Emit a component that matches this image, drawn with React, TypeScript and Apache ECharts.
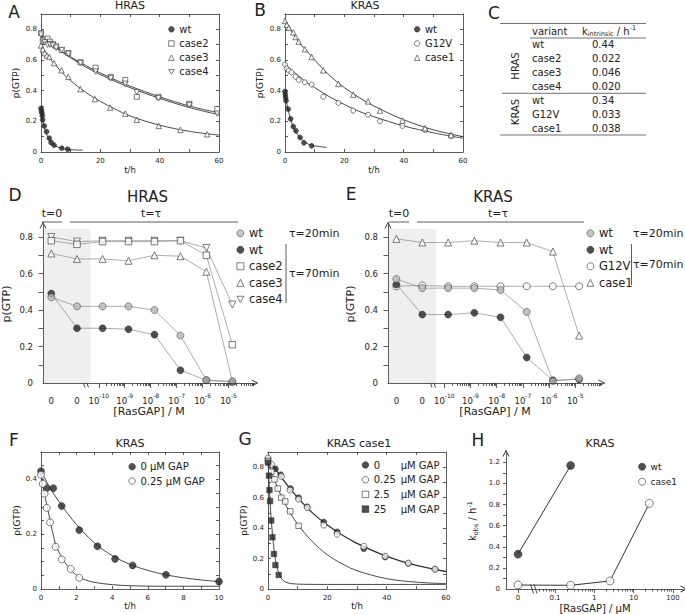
import React, { useEffect, useRef } from "react";
import * as echarts from "echarts";

// ================= DATA =================
// Panel A: HRAS, [t / h, p(GTP)]
const hrasWt = [[0, 0.285], [0.15, 0.27], [0.3, 0.254], [0.45, 0.235], [0.56, 0.21], [1.1, 0.17], [1.9, 0.133], [2.8, 0.09], [3.4, 0.062], [4.4, 0.045], [7, 0.025], [9, 0.018]];
const hrasCase2 = [[0, 0.775], [0.6, 0.72], [1.3, 0.735], [2.2, 0.74], [3, 0.72], [4, 0.705], [5.1, 0.69], [7, 0.665], [9.2, 0.645], [13.3, 0.585], [18.4, 0.55], [23.5, 0.49], [28.4, 0.47], [32.3, 0.36], [39.6, 0.36], [50, 0.315], [59.4, 0.28]];
const hrasCase3 = [[0, 0.695], [0.6, 0.67], [1.3, 0.645], [2, 0.63], [2.8, 0.62], [4.4, 0.58], [6.9, 0.533], [9.2, 0.49], [13.3, 0.41], [18.2, 0.345], [23.3, 0.29], [28.4, 0.25], [32.3, 0.21], [39.7, 0.17], [47, 0.144], [56, 0.116]];
const hrasCase4 = [[0, 0.765], [0.6, 0.725], [1.3, 0.715], [2.2, 0.7], [3, 0.7], [4, 0.695], [5.1, 0.68], [7, 0.665], [9.2, 0.64], [13.3, 0.58], [18.4, 0.525], [23.5, 0.48], [28.4, 0.445], [32.3, 0.39], [39.6, 0.35], [50, 0.305], [59.4, 0.25]];
const hrasWtFit = [[0, 0.285], [0.5, 0.215], [1, 0.17], [1.5, 0.135], [2, 0.11], [3, 0.075], [4, 0.052], [5, 0.038], [6, 0.03], [8, 0.02], [10, 0.015], [14, 0.012]];
const hrasCase2Fit = [[0, 0.765], [5, 0.685], [10, 0.62], [15, 0.565], [20, 0.515], [30, 0.43], [40, 0.36], [50, 0.3], [60, 0.255]];
const hrasCase3Fit = [[0, 0.695], [2.5, 0.62], [5, 0.565], [7.5, 0.51], [10, 0.465], [15, 0.39], [20, 0.33], [25, 0.28], [30, 0.235], [40, 0.175], [50, 0.135], [60, 0.11]];
const hrasCase4Fit = [[0, 0.76], [5, 0.68], [10, 0.615], [15, 0.555], [20, 0.505], [30, 0.42], [40, 0.35], [50, 0.29], [60, 0.243]];

// Panel B: KRAS, [t / h, p(GTP)]
const krasWt = [[0, 0.395], [0.1, 0.375], [0.2, 0.355], [0.35, 0.335], [1.1, 0.28], [1.9, 0.216], [2.8, 0.166], [3.7, 0.138], [5.1, 0.095], [6.4, 0.06], [9, 0.04]];
const krasG12V = [[0, 0.57], [0.6, 0.545], [1.3, 0.53], [2.2, 0.52], [3.6, 0.49], [4.6, 0.47], [6.7, 0.455], [9, 0.44], [12.9, 0.36], [18, 0.32], [23, 0.27], [28, 0.243], [32, 0.2], [39.6, 0.17], [47.2, 0.144], [56, 0.105]];
const krasCase1 = [[0, 0.855], [0.6, 0.83], [1.3, 0.81], [2.8, 0.78], [3.6, 0.75], [4.6, 0.72], [6.7, 0.67], [9, 0.62], [12.9, 0.533], [18, 0.444], [23, 0.374], [28, 0.33], [32, 0.27], [39.6, 0.205], [47.2, 0.155], [56, 0.11]];
const krasWtFit = [[0, 0.395], [0.5, 0.33], [1, 0.28], [1.5, 0.24], [2, 0.205], [3, 0.155], [4, 0.12], [5, 0.095], [6, 0.075], [8, 0.05], [10, 0.04], [14, 0.03]];
const krasG12VFit = [[0, 0.57], [2.5, 0.53], [5, 0.49], [7.5, 0.45], [10, 0.42], [15, 0.36], [20, 0.31], [25, 0.265], [30, 0.23], [40, 0.17], [50, 0.125], [60, 0.09]];
const krasCase1Fit = [[0, 0.86], [2.5, 0.78], [5, 0.71], [7.5, 0.655], [10, 0.6], [15, 0.5], [20, 0.42], [25, 0.355], [30, 0.3], [40, 0.21], [50, 0.145], [60, 0.1]];

// Panel C: table of intrinsic rates
const hrasVariants = ["wt", "case2", "case3", "case4"];
const hrasK = ["0.44", "0.022", "0.046", "0.020"];
const krasVariants = ["wt", "G12V", "case1"];
const krasK = ["0.34", "0.033", "0.038"];

// Panels D / E: GAP titration; first value = t=0, second = t=τ without GAP, then the concentrations
const gapConcM = [1.4e-10, 1.4e-9, 1.4e-8, 1.4e-7, 1.4e-6, 1.4e-5];
const dHrasWt20 = [0.47, 0.42, 0.42, 0.42, 0.40, 0.26, 0.016, 0.01];
const dHrasWt70 = [0.49, 0.30, 0.30, 0.295, 0.265, 0.07, 0.015, 0.005];
const dHrasCase2 = [0.78, 0.76, 0.775, 0.775, 0.775, 0.78, 0.70, 0.21];
const dHrasCase3 = [0.71, 0.68, 0.68, 0.67, 0.70, 0.695, 0.61, 0.01];
const dHrasCase4 = [0.80, 0.775, 0.78, 0.78, 0.78, 0.78, 0.74, 0.43];
const eKrasWt20 = [0.57, 0.52, 0.52, 0.52, 0.51, 0.39, 0.01, 0.025];
const eKrasWt70 = [0.54, 0.375, 0.375, 0.385, 0.36, 0.14, 0.015, 0.02];
const eKrasG12V = [0.53, 0.535, 0.53, 0.53, 0.53, 0.53, 0.53, 0.53];
const eKrasCase1 = [0.79, 0.77, 0.77, 0.78, 0.77, 0.77, 0.72, 0.26];

// Panel F: KRAS wt with GAP, [t / h, p(GTP)]
const fGap0 = [[0, 0.43], [0.32, 0.368], [0.69, 0.368], [1.16, 0.303], [2.15, 0.215], [3.17, 0.156], [4.16, 0.11], [5.15, 0.086], [7.02, 0.052], [10, 0.027]];
const fGap025 = [[0, 0.417], [0.1, 0.384], [0.2, 0.348], [0.32, 0.296], [0.51, 0.243], [0.82, 0.154], [1.16, 0.108], [1.67, 0.073], [2.15, 0.041]];
const fFit0 = [[0, 0.43], [0.5, 0.37], [1, 0.32], [1.5, 0.275], [2, 0.235], [3, 0.168], [4, 0.122], [5, 0.09], [6, 0.068], [7, 0.052], [8, 0.041], [9, 0.033], [10, 0.027]];
const fFit025 = [[0, 0.42], [0.25, 0.33], [0.5, 0.255], [0.75, 0.18], [1, 0.135], [1.5, 0.083], [2, 0.05], [2.5, 0.033], [3, 0.024], [4, 0.016], [5, 0.012], [7, 0.01], [10, 0.01]];

// Panel G: KRAS case1 with GAP, [t / h, p(GTP)]
const gGap0 = [[0, 0.855], [2.5, 0.79], [4.3, 0.75], [7.6, 0.66], [10.3, 0.6], [13.2, 0.54], [18.8, 0.44], [23.3, 0.375], [32.3, 0.265], [39.5, 0.21], [47.3, 0.168], [56.3, 0.13]];
const gGap025 = [[0, 0.86], [1.2, 0.82], [4.5, 0.74], [7.4, 0.65], [10.3, 0.59], [13.2, 0.535], [18.8, 0.42], [23.3, 0.36], [32.3, 0.28], [39.5, 0.215], [47.3, 0.17], [56.3, 0.13]];
const gGap25 = [[0, 0.84], [1.1, 0.77], [2.2, 0.72], [3.3, 0.66], [4.5, 0.6], [5.8, 0.575], [7.5, 0.51], [10.3, 0.415]];
const gGap250 = [[0, 0.83], [0.3, 0.745], [0.5, 0.65], [0.7, 0.577], [1.1, 0.45], [1.5, 0.34], [2, 0.23], [2.5, 0.157], [3.6, 0.092]];
const gFit0 = [[0, 0.86], [5, 0.72], [10, 0.6], [15, 0.5], [20, 0.42], [25, 0.355], [30, 0.3], [40, 0.215], [50, 0.155], [60, 0.115]];
const gFit25 = [[0, 0.84], [2.5, 0.7], [5, 0.59], [7.5, 0.5], [10, 0.425], [15, 0.31], [20, 0.225], [25, 0.165], [30, 0.12], [40, 0.068], [50, 0.045], [60, 0.035]];
const gFit250 = [[0, 0.84], [0.5, 0.64], [1, 0.48], [1.5, 0.36], [2, 0.265], [2.5, 0.195], [3, 0.145], [4, 0.088], [5, 0.058], [6, 0.045], [8, 0.035], [12, 0.031], [20, 0.03], [40, 0.03], [60, 0.03]];

// Panel H: k_obs vs [RasGAP] / μM
const hConcUM = [0, 0.25, 2.5, 25];
const hKobsWt = [0.33, 1.17];
const hKobsCase1 = [0.038, 0.035, 0.076, 0.81];

// axis ticks / labels
const timeTicks60 = [10, 20, 30, 40, 50];
const timeLabels60 = [0, 20, 40, 60];
const timeTicks10 = [1, 2, 3, 4, 5, 6, 7, 8, 9];
const timeLabels10 = [0, 2, 4, 6, 8, 10];
const pTicks = [0.1, 0.2, 0.3, 0.4, 0.5, 0.6, 0.7, 0.8];
const pLabels = [0, 0.2, 0.4, 0.6, 0.8];
const pTicksF = [0.05, 0.1, 0.15, 0.2, 0.25, 0.3, 0.35, 0.4, 0.45];
const pLabelsF = [0, 0.2, 0.4];
const kTicks = [0.1, 0.2, 0.3, 0.4, 0.5, 0.6, 0.7, 0.8, 0.9, 1.0, 1.1, 1.2];
const kLabels = [0, 0.2, 0.4, 0.6, 0.8, 1.0, 1.2];
const gapDecadesM = [-10, -9, -8, -7, -6, -5];
const gapDecadesUM = [-1, 0, 1, 2];

// ================= STYLE =================
const FONT = "DejaVu Sans, Liberation Sans, Arial, sans-serif";
const INK = "#222";
const LN = "#333";
const AX = { color: LN, width: 0.8 };
const ARROW = "path://M0,10L5,0L10,10L8.6,10L5,2.8L1.4,10Z";
const DOWN_TRI = "path://M0,0L10,0L5,8.7Z";
const filled = { color: "#262626", borderColor: "#262626", borderWidth: 0.6 };
const open = { color: "#ffffff", borderColor: "#333", borderWidth: 0.8 };
const gray = { color: "#b8b8b8", borderColor: "#555", borderWidth: 0.8 };

const txt = (size: number, extra: any = {}) => ({ fontFamily: FONT, fontSize: size, color: INK, ...extra });
const fmtP = (v: number) => (Math.abs(v) < 1e-9 ? "0" : v.toFixed(1));

// axis coordinate of the two "0" GAP categories (D/E) and of the "0" in H
const D_T0_POS = -11.83;
const D_ZERO_POS = -10.84;
const H_ZERO_POS = -1.94;

function minorLogTicks(decades: number[], maxV: number, from = 2) {
  const out: number[] = [];
  decades.forEach((d, i) => {
    for (let k = i === 0 ? from : 2; k <= 9; k++) {
      const v = d + Math.log10(k);
      if (v < maxV) out.push(v);
    }
  });
  return out;
}

function buildOption() {
  const grid: any[] = [];
  const xAxis: any[] = [];
  const yAxis: any[] = [];
  const series: any[] = [];
  const legend: any[] = [];
  const graphic: any[] = [];

  const addGrid = (left: number, top: number, width: number, height: number) => {
    grid.push({ left, top, width, height, containLabel: false });
    return grid.length - 1;
  };

  function boxPanel(g: number, o: any) {
    const xi = xAxis.length;
    const yi = yAxis.length;
    const base = { gridIndex: g, type: "value", splitLine: { show: false }, axisLine: { show: true, onZero: false, lineStyle: AX } };
    const tick = (vals: number[]) => ({ show: true, inside: true, length: 3, lineStyle: AX, customValues: vals });
    xAxis.push({
      ...base, position: "bottom", min: o.x[0], max: o.x[1], axisTick: tick(o.xTicks),
      axisLabel: { show: true, customValues: o.xLabels, margin: 5, ...txt(7), formatter: (v: number) => String(v) },
      name: o.xName, nameLocation: "middle", nameGap: o.xNameGap, nameTextStyle: txt(8.5),
    });
    xAxis.push({ ...base, position: "top", min: o.x[0], max: o.x[1], axisTick: tick(o.xTicks), axisLabel: { show: false } });
    yAxis.push({
      ...base, position: "left", min: o.y[0], max: o.y[1], axisTick: tick(o.yTicks),
      axisLabel: { show: true, customValues: o.yLabels, margin: 4, ...txt(7), formatter: fmtP },
      name: o.yName, nameLocation: "middle", nameGap: o.yNameGap, nameRotate: 90, nameTextStyle: txt(9),
    });
    yAxis.push({ ...base, position: "right", min: o.y[0], max: o.y[1], axisTick: tick(o.yTicks), axisLabel: { show: false } });
    return { xi, yi };
  }

  function arrowPanel(g: number, o: any) {
    const xi = xAxis.length;
    const yi = yAxis.length;
    xAxis.push({
      gridIndex: g, type: "value", position: "bottom", min: o.x[0], max: o.x[1], splitLine: { show: false }, z: 5,
      axisLine: { show: true, onZero: false, lineStyle: AX, symbol: ["none", ARROW], symbolSize: [7, 8] },
      axisTick: { show: true, length: o.majorLen, lineStyle: AX, customValues: o.majorTicks },
      axisLabel: { show: true, customValues: o.labelValues, margin: o.xLabelMargin, ...txt(o.labelSize), formatter: o.fmt, rich: o.rich },
      name: o.xName, nameLocation: "middle", nameGap: o.xNameGap, nameTextStyle: txt(o.nameSize),
    });
    xAxis.push({
      gridIndex: g, type: "value", position: "bottom", min: o.x[0], max: o.x[1], splitLine: { show: false }, z: 5,
      axisLine: { show: false, onZero: false }, axisLabel: { show: false },
      axisTick: { show: true, length: o.minorLen, lineStyle: AX, customValues: o.minorTicks },
    });
    yAxis.push({
      gridIndex: g, type: "value", position: "left", min: o.y[0], max: o.y[1], splitLine: { show: false }, z: 5,
      axisLine: { show: true, onZero: false, lineStyle: AX, symbol: ["none", ARROW], symbolSize: [7, 8] },
      axisTick: { show: true, length: o.yTickLen, lineStyle: AX, customValues: o.yTicks },
      axisLabel: { show: true, customValues: o.yLabels, margin: o.yLabelMargin, ...txt(o.labelSize), formatter: fmtP },
      name: o.yName, nameLocation: "middle", nameGap: o.yNameGap, nameRotate: 90, nameTextStyle: o.yNameStyle || txt(o.nameSize),
    });
    return { xi, yi };
  }

  const scatter = (name: string, p: any, data: any[], symbol: string, size: number, style: any) =>
    series.push({ type: "scatter", name, xAxisIndex: p.xi, yAxisIndex: p.yi, data, symbol, symbolSize: size, itemStyle: style, clip: false, z: 4, emphasis: { disabled: true } });
  const fit = (name: string, p: any, data: any[], width = 0.9) =>
    series.push({ type: "line", name, xAxisIndex: p.xi, yAxisIndex: p.yi, data, smooth: 0.35, symbol: "none", showSymbol: false, lineStyle: { color: "#333", width }, silent: true, z: 3 });
  const joined = (name: string, p: any, data: any[], extra: any = {}) =>
    series.push({ type: "line", name, xAxisIndex: p.xi, yAxisIndex: p.yi, data, symbol: "none", showSymbol: false, lineStyle: { color: "#8a8a8a", width: 0.7 }, silent: true, z: 2, ...extra });

  const stripPrefix = (n: string) => n.slice(2).split("|")[0];
  const leg = (left: number, top: number, icon: number, gap: number, size: number, data: string[], extra: any = {}) =>
    legend.push({
      left, top, orient: "vertical", itemWidth: icon, itemHeight: icon, itemGap: gap, padding: 0, selectedMode: false,
      itemStyle: { borderWidth: 0.8 },
      textStyle: txt(size), formatter: stripPrefix, data, ...extra,
    });

  // ---------------- A ----------------
  const A = boxPanel(addGrid(41, 14, 178, 138), {
    x: [0, 60], xTicks: timeTicks60, xLabels: timeLabels60, y: [0, 0.9], yTicks: pTicks, yLabels: pLabels,
    xName: "t/h", xNameGap: 13, yName: "p(GTP)", yNameGap: 21,
  });
  fit("A:fit wt", A, hrasWtFit);
  fit("A:fit case2", A, hrasCase2Fit);
  fit("A:fit case3", A, hrasCase3Fit);
  fit("A:fit case4", A, hrasCase4Fit);
  scatter("A:wt", A, hrasWt, "circle", 5, filled);
  scatter("A:case2", A, hrasCase2, "rect", 5, open);
  scatter("A:case3", A, hrasCase3, "triangle", 5.5, open);
  scatter("A:case4", A, hrasCase4, DOWN_TRI, 5.5, open);
  leg(168.3, 24.3, 5.5, 4.2, 10, ["A:wt", "A:case2", "A:case3", "A:case4"]);

  // ---------------- B ----------------
  const B = boxPanel(addGrid(285, 14, 178, 138), {
    x: [0, 60], xTicks: timeTicks60, xLabels: timeLabels60, y: [0, 0.9], yTicks: pTicks, yLabels: pLabels,
    xName: "t/h", xNameGap: 13, yName: "p(GTP)", yNameGap: 21,
  });
  fit("B:fit wt", B, krasWtFit);
  fit("B:fit G12V", B, krasG12VFit);
  fit("B:fit case1", B, krasCase1Fit);
  scatter("B:wt", B, krasWt, "circle", 5, filled);
  scatter("B:G12V", B, krasG12V, "circle", 5, open);
  scatter("B:case1", B, krasCase1, "triangle", 5.5, open);
  leg(414, 24.3, 5.5, 4.2, 10, ["B:wt", "B:G12V", "B:case1"]);

  // ---------------- D / E ----------------
  const gapX = [D_T0_POS, D_ZERO_POS, ...gapConcM.map((c) => Math.log10(c))];
  const pairs = (vals: number[]) => vals.map((v, i) => [gapX[i], v]);
  const richGap = {
    b: { fontFamily: FONT, fontSize: 8.5, color: INK, lineHeight: 13, verticalAlign: "bottom" },
    s: { fontFamily: FONT, fontSize: 6, color: INK, lineHeight: 6, verticalAlign: "top" },
  };
  const gapFmt = (v: number) => (v < -10.5 ? "{b|0}" : `{b|10}{s|${Math.round(v)}}`);
  const gapPanelOpts = {
    x: [-12.15, -3.98], majorTicks: gapDecadesM, minorTicks: minorLogTicks(gapDecadesM, -3.98), majorLen: 5, minorLen: 3,
    labelValues: [D_T0_POS, D_ZERO_POS, ...gapDecadesM], fmt: gapFmt, rich: richGap, labelSize: 8.5, xLabelMargin: 9,
    xName: "[RasGAP] / M", xNameGap: 20, nameSize: 11,
    y: [0, 0.866], yTicks: pTicks, yLabels: pLabels, yTickLen: 4.5, yLabelMargin: 10, yName: "p(GTP)", yNameGap: 31,
  };
  const shade = {
    silent: true, itemStyle: { color: "#efefef" },
    data: [[{ coord: [-12.13, 0] }, { coord: [-10.32, 0.844] }]],
  };

  const D = arrowPanel(addGrid(41, 225, 214, 158), gapPanelOpts);
  joined("D:line wt20", D, pairs(dHrasWt20), { markArea: shade });
  joined("D:line wt70", D, pairs(dHrasWt70));
  joined("D:line case2", D, pairs(dHrasCase2));
  joined("D:line case3", D, pairs(dHrasCase3));
  joined("D:line case4", D, pairs(dHrasCase4));
  scatter("D:case3", D, pairs(dHrasCase3), "triangle", 7, open);
  scatter("D:case4", D, pairs(dHrasCase4), DOWN_TRI, 7, open);
  scatter("D:case2", D, pairs(dHrasCase2), "rect", 6.5, open);
  scatter("D:wt|70", D, pairs(dHrasWt70), "circle", 7, filled);
  scatter("D:wt|20", D, pairs(dHrasWt20), "circle", 7, gray);
  leg(236.5, 227.3, 7, 4.5, 11.5, ["D:wt|20", "D:wt|70", "D:case2", "D:case3", "D:case4"]);

  const E = arrowPanel(addGrid(388, 225, 214, 158), { ...gapPanelOpts, yNameGap: 32 });
  joined("E:line wt20", E, pairs(eKrasWt20), { markArea: shade });
  joined("E:line wt70", E, pairs(eKrasWt70));
  joined("E:line G12V", E, pairs(eKrasG12V));
  joined("E:line case1", E, pairs(eKrasCase1));
  scatter("E:case1", E, pairs(eKrasCase1), "triangle", 7, open);
  scatter("E:G12V", E, pairs(eKrasG12V), "circle", 7, open);
  scatter("E:wt|70", E, pairs(eKrasWt70), "circle", 7, filled);
  scatter("E:wt|20", E, pairs(eKrasWt20), "circle", 7, gray);
  leg(586.5, 227.3, 7, 4.5, 11.5, ["E:wt|20", "E:wt|70", "E:G12V", "E:case1"]);

  // ---------------- F ----------------
  const F = boxPanel(addGrid(41, 452, 178, 137), {
    x: [0, 10], xTicks: timeTicks10, xLabels: timeLabels10, y: [0, 0.5], yTicks: pTicksF, yLabels: pLabelsF,
    xName: "t/h", xNameGap: 11, yName: "p(GTP)", yNameGap: 20,
  });
  fit("F:fit 0", F, fFit0);
  fit("F:fit 0.25", F, fFit025);
  scatter("F:0 μM GAP", F, fGap0, "circle", 7, filled);
  scatter("F:0.25 μM GAP", F, fGap025, "circle", 7, open);
  leg(128.5, 461.7, 6.5, 4.3, 10, ["F:0 μM GAP", "F:0.25 μM GAP"]);

  // ---------------- G ----------------
  const G = boxPanel(addGrid(268, 452, 178, 137), {
    x: [0, 60], xTicks: timeTicks60, xLabels: timeLabels60, y: [0, 0.9], yTicks: pTicks, yLabels: pLabels,
    xName: "t/h", xNameGap: 11, yName: "p(GTP)", yNameGap: 16,
  });
  fit("G:fit 0", G, gFit0, 1.3);
  fit("G:fit 2.5", G, gFit25);
  fit("G:fit 25", G, gFit250);
  scatter("G:0", G, gGap0, "circle", 6, filled);
  scatter("G:0.25", G, gGap025, "circle", 6, open);
  scatter("G:2.5", G, gGap25, "rect", 5.5, open);
  scatter("G:25", G, gGap250, "rect", 5.5, filled);
  leg(361.8, 460, 6.5, 4.7, 10, ["G:0", "G:0.25", "G:2.5", "G:25"], {
    textStyle: {
      ...txt(10),
      rich: { a: { fontFamily: FONT, fontSize: 10, color: INK, width: 27 }, b: { fontFamily: FONT, fontSize: 10, color: INK } },
    },
    formatter: (n: string) => `{a|${n.slice(2)}}{b|μM GAP}`,
  });

  // ---------------- H ----------------
  const hX = (c: number) => (c === 0 ? H_ZERO_POS : Math.log10(c));
  const H = arrowPanel(addGrid(506, 453, 178, 136), {
    x: [-2.246, 2.28], majorTicks: [H_ZERO_POS, ...gapDecadesUM], minorTicks: minorLogTicks([-2, ...gapDecadesUM], 2.28, 4), majorLen: 4, minorLen: 2.5,
    labelValues: [H_ZERO_POS, ...gapDecadesUM], fmt: (v: number) => (v < -1.5 ? "0" : String(Math.round(Math.pow(10, v) * 10) / 10)),
    labelSize: 7, xLabelMargin: 5, xName: "[RasGAP] / μM", xNameGap: 14, nameSize: 10,
    y: [0, 1.288], yTicks: kTicks, yLabels: kLabels, yTickLen: 3, yLabelMargin: 6, yNameGap: 27,
    yName: "{n|k}{sub|obs}{n| / h}{sup|-1}",
    yNameStyle: {
      ...txt(10),
      rich: {
        n: { fontFamily: FONT, fontSize: 10, color: INK, lineHeight: 13 },
        sub: { fontFamily: FONT, fontSize: 6.5, color: INK, lineHeight: 6, verticalAlign: "bottom" },
        sup: { fontFamily: FONT, fontSize: 6.5, color: INK, lineHeight: 6, verticalAlign: "top" },
      },
    },
  });
  const hWtPts = hKobsWt.map((v, i) => [hX(hConcUM[i]), v]);
  const hCase1Pts = hKobsCase1.map((v, i) => [hX(hConcUM[i]), v]);
  series.push({ type: "line", name: "H:line wt", xAxisIndex: H.xi, yAxisIndex: H.yi, data: hWtPts, symbol: "none", lineStyle: { color: "#333", width: 1 }, silent: true, z: 2 });
  series.push({ type: "line", name: "H:line case1", xAxisIndex: H.xi, yAxisIndex: H.yi, data: hCase1Pts, symbol: "none", lineStyle: { color: "#333", width: 1 }, silent: true, z: 2 });
  scatter("H:wt", H, hWtPts, "circle", 8, filled);
  scatter("H:case1", H, hCase1Pts, "circle", 8, open);
  leg(638.2, 462.2, 7, 6, 9, ["H:wt", "H:case1"]);

  // ---------------- static texts / decorations ----------------
  const label = (text: string, x: number, y: number, size: number, align = "center", extra: any = {}) =>
    graphic.push({ type: "text", x, y, silent: true, style: { text, fontFamily: FONT, fontSize: size, fill: INK, align, verticalAlign: "middle", ...extra } });
  const seg = (x1: number, y1: number, x2: number, y2: number, w = 0.8) =>
    graphic.push({ type: "line", silent: true, shape: { x1, y1, x2, y2 }, style: { stroke: LN, lineWidth: w } });

  // panel letters
  [["A", 14, 12], ["B", 260, 10], ["C", 494, 13], ["D", 15, 195], ["E", 351, 194], ["F", 14, 440], ["G", 245, 439], ["H", 478, 440]].forEach(
    ([t, x, y]) => label(t as string, x as number, y as number, 17)
  );
  // titles
  label("HRAS", 130, 5.5, 11);
  label("KRAS", 365, 5.5, 11);
  label("HRAS", 147.5, 197, 15);
  label("KRAS", 493, 197, 15);
  label("KRAS", 130, 443, 11);
  label("KRAS case1", 359, 443, 11);
  label("KRAS", 600, 443, 11);

  // t=0 / t=τ headers
  [0, 347].forEach((dx) => {
    label("t=0", 52 + dx, 213, 11);
    label("t=τ", 151 + dx, 213, 11);
    seg(42 + dx, 222, 62 + dx, 222);
  });
  seg(70, 222, 238, 222);
  seg(417, 222, 584, 222);
  // τ annotations
  label("τ=20min", 289, 233, 11, "left");
  label("τ=70min", 289, 273, 11, "left");
  seg(286, 244, 286, 303);
  label("τ=20min", 633, 233, 11, "left");
  label("τ=70min", 633, 264, 11, "left");
  seg(631.5, 244, 631.5, 285);

  // axis breaks
  const brk = (x: number, y: number) => {
    graphic.push({ type: "rect", silent: true, shape: { x: x + 1, y: y - 3, width: 2.5, height: 6 }, style: { fill: "#fff" } });
    seg(x - 1.5, y - 4.5, x + 1.5, y + 4.5, 0.9);
    seg(x + 2, y - 4.5, x + 5, y + 4.5, 0.9);
  };
  brk(83.5, 383);
  brk(430.5, 383);
  brk(532, 589);

  // ---------------- C: table ----------------
  const tl = 500, tr = 646, colVar = 532, colK = 592, colGroup = 515;
  seg(tl, 23.5, tr, 23.5, 0.7);
  label("variant", colVar, 31, 10, "left");
  graphic.push({
    type: "text", x: 582, y: 31, silent: true,
    style: {
      text: "{n|k}{sub|intrinsic}{n| / h}{sup|-1}", align: "left", verticalAlign: "middle",
      rich: {
        n: { fontFamily: FONT, fontSize: 10, fill: INK, lineHeight: 13 },
        sub: { fontFamily: FONT, fontSize: 6.5, fill: INK, lineHeight: 6, verticalAlign: "bottom" },
        sup: { fontFamily: FONT, fontSize: 6.5, fill: INK, lineHeight: 6, verticalAlign: "top" },
      },
    },
  });
  seg(colVar - 2, 38, tr, 38, 0.7);
  hrasVariants.forEach((v, i) => {
    label(v, colVar, 44 + i * 14, 10, "left");
    label(hrasK[i], colK, 44 + i * 14, 10, "left");
  });
  seg(tl + 2, 93.3, tr, 93.3, 0.7);
  krasVariants.forEach((v, i) => {
    label(v, colVar, 100 + i * 14, 10, "left");
    label(krasK[i], colK, 100 + i * 14, 10, "left");
  });
  seg(tl, 135, tr, 135, 0.7);
  graphic.push({ type: "text", x: colGroup, y: 66, rotation: Math.PI / 2, silent: true, style: { text: "HRAS", fontFamily: FONT, fontSize: 10, fill: INK, align: "center", verticalAlign: "middle" } });
  graphic.push({ type: "text", x: colGroup, y: 112, rotation: Math.PI / 2, silent: true, style: { text: "KRAS", fontFamily: FONT, fontSize: 10, fill: INK, align: "center", verticalAlign: "middle" } });

  return {
    animation: false,
    backgroundColor: "#ffffff",
    textStyle: { fontFamily: FONT },
    grid, xAxis, yAxis, series, legend, graphic,
  };
}

export default function App() {
  const ref = useRef<HTMLDivElement>(null);
  useEffect(() => {
    document.body.style.margin = "0";
    const chart = echarts.init(ref.current!, null, { renderer: "svg" });
    chart.setOption(buildOption() as any);
    return () => chart.dispose();
  }, []);
  return <div ref={ref} style={{ width: 685, height: 614 }} />;
}
